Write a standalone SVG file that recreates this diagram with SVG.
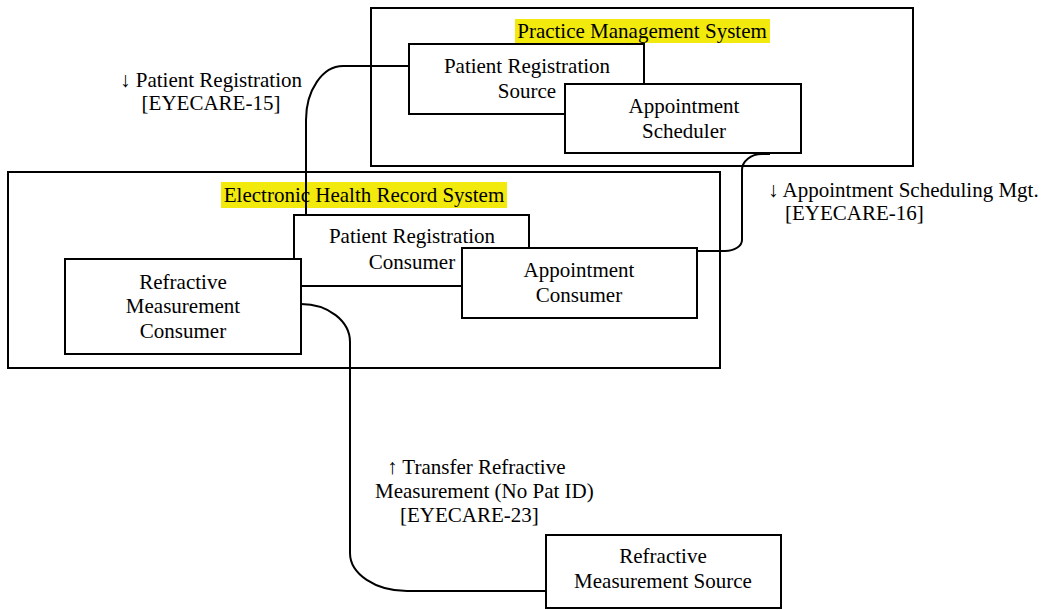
<svg xmlns="http://www.w3.org/2000/svg" width="1047" height="610" viewBox="0 0 1047 610">
<style>
.c{fill:none;stroke:#000;stroke-width:2}
.b{fill:#fff;stroke:#000;stroke-width:2}
.s{fill:none;stroke:#000;stroke-width:2}
.t{font-family:"Liberation Serif","Times New Roman",serif;font-size:21px;fill:#000}
.m{text-anchor:middle}
.h{fill:#f2ea0c}
</style>
<rect width="1047" height="610" fill="#fff"/>
<g id="pms">
<rect class="s" x="371" y="8" width="542" height="158"/>
<rect class="h" x="515" y="19" width="255" height="24"/>
<text class="t m" x="642" y="38">Practice Management System</text>
</g>
<g id="ehr">
<rect class="s" x="8" y="172" width="712" height="196"/>
<rect class="h" x="221" y="182" width="286" height="26"/>
<text class="t m" x="364" y="202">Electronic Health Record System</text>
</g>
<g id="connectors">
<path class="c" d="M409,66 H343 A37,54 0 0 0 306,120 V215"/>
<path class="c" d="M770,154 H762 A20,16 0 0 0 742,170 V240 A17,11 0 0 1 725,251 H697"/>
<path class="c" d="M301,304 A49,38 0 0 1 350,342 V553 A57,38 0 0 0 407,591 H546"/>
</g>
<g id="prs">
<rect class="b" x="409" y="44" width="235" height="70"/>
<text class="t m" x="527" y="73">Patient Registration</text>
<text class="t m" x="527" y="98">Source</text>
</g>
<g id="as">
<rect class="b" x="565" y="84" width="236" height="69"/>
<text class="t m" x="684" y="113">Appointment</text>
<text class="t m" x="684" y="138">Scheduler</text>
</g>
<g id="prc">
<rect class="b" x="294" y="215" width="235" height="71"/>
<text class="t m" x="412" y="243">Patient Registration</text>
<text class="t m" x="412" y="269">Consumer</text>
</g>
<g id="rmc">
<rect class="b" x="65" y="259" width="236" height="95"/>
<text class="t m" x="183" y="289">Refractive</text>
<text class="t m" x="183" y="313">Measurement</text>
<text class="t m" x="183" y="338">Consumer</text>
</g>
<g id="ac">
<rect class="b" x="462" y="248" width="235" height="70"/>
<text class="t m" x="579" y="277">Appointment</text>
<text class="t m" x="579" y="302">Consumer</text>
</g>
<g id="rms">
<rect class="b" x="546" y="535" width="235" height="73"/>
<text class="t m" x="663" y="563">Refractive</text>
<text class="t m" x="663" y="588">Measurement Source</text>
</g>
<g id="labels">
<text class="t m" x="211" y="87">↓ Patient Registration</text>
<text class="t m" x="211" y="110">[EYECARE-15]</text>
<text class="t" x="768" y="197">↓ Appointment Scheduling Mgt.</text>
<text class="t" x="785" y="220">[EYECARE-16]</text>
<text class="t" x="387" y="474">↑ Transfer Refractive</text>
<text class="t" x="375" y="498">Measurement (No Pat ID)</text>
<text class="t" x="400" y="522">[EYECARE-23]</text>
</g>
</svg>
